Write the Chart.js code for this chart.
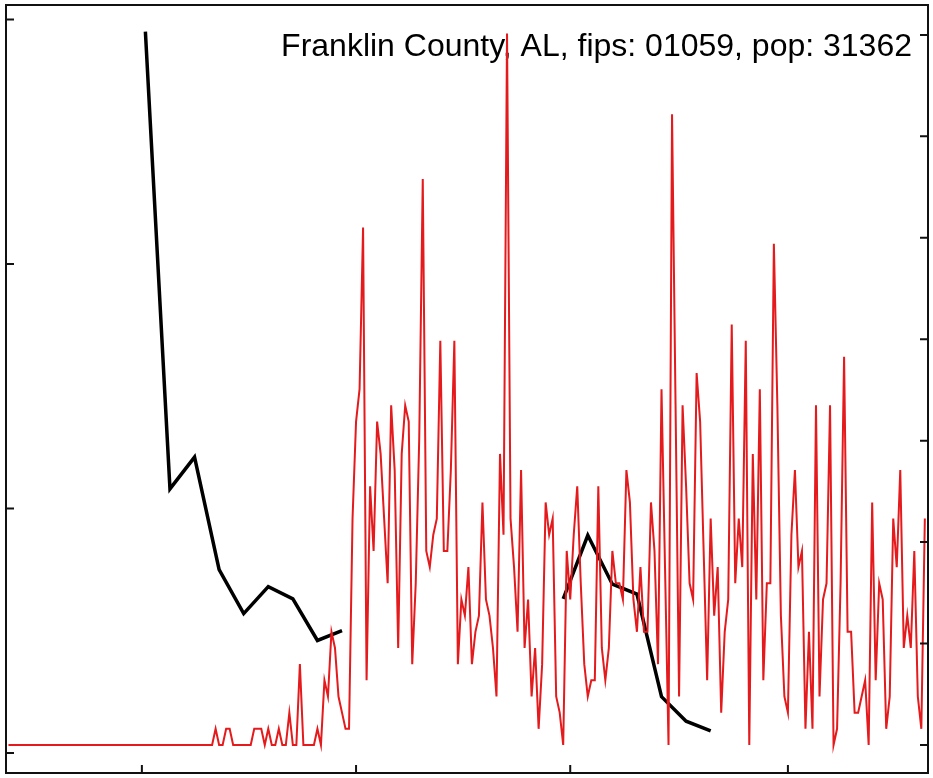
<!DOCTYPE html>
<html>
<head>
<meta charset="utf-8">
<script src="https://cdn.jsdelivr.net/npm/chart.js@4.4.1/dist/chart.umd.min.js"></script>
<style>
  html, body { margin: 0; padding: 0; background: #fff; }
  #wrap { width: 933px; height: 778px; }
</style>
</head>
<body>
<div id="wrap"><canvas id="countyChart"></canvas></div>
<script>
const countyTitle = "Franklin County, AL, fips: 01059, pop: 31362";
const population = 31362;

// daily new cases, x = days since 2020-01-22 (first value is day 1)
const firstCaseDay = 1;
const dailyCases = [
  0, 0, 0, 0, 0, 0, 0, 0, 0, 0,
  0, 0, 0, 0, 0, 0, 0, 0, 0, 0,
  0, 0, 0, 0, 0, 0, 0, 0, 0, 0,
  0, 0, 0, 0, 0, 0, 0, 0, 0, 0,
  0, 0, 0, 0, 0, 0, 0, 0, 0, 0,
  0, 0, 0, 0, 0, 0, 0, 0, 0, 1,
  0, 0, 1, 1, 0, 0, 0, 0, 0, 0,
  1, 1, 1, 0, 1, 0, 0, 1, 0, 0,
  2, 0, 0, 5, 0, 0, 0, 0, 1, 0,
  4, 3, 7, 6, 3, 2, 1, 1, 14, 20,
  22, 32, 4, 16, 12, 20, 18, 14, 10, 21,
  17, 6, 18, 21, 20, 5, 10, 19, 35, 12,
  11, 13, 14, 25, 12, 12, 17, 25, 5, 9,
  8, 11, 5, 7, 8, 15, 9, 8, 6, 3,
  18, 13, 44, 14, 11, 7, 17, 6, 9, 3,
  6, 1, 5, 15, 13, 14, 3, 2, 0, 12,
  9, 13, 16, 10, 5, 3, 4, 4, 16, 6,
  4, 6, 12, 10, 10, 9, 17, 15, 9, 7,
  11, 7, 7, 15, 12, 5, 22, 11, 0, 39,
  21, 3, 21, 16, 10, 9, 23, 20, 12, 4,
  14, 8, 11, 2, 7, 9, 26, 10, 14, 11,
  25, 0, 18, 9, 22, 4, 10, 10, 31, 21,
  8, 3, 2, 13, 17, 11, 12, 1, 7, 1,
  21, 3, 9, 10, 21, 0, 1, 10, 24, 7,
  7, 2, 2, 3, 4, 0, 15, 4, 10, 9,
  1, 3, 14, 11, 17, 6, 8, 6, 12, 3,
  1, 14
];

// weekly series (left axis), one value every 7 days from day 40
const firstWeekDay = 40;
const weeklyValues = [
  29.5, 10.8, 12.1, 7.5, 5.7, 6.8, 6.3, 4.6, 5.0,
  null, null, null, null, null, null, null, null,
  6.3, 8.9, 6.9, 6.5, 2.3, 1.3, 0.9
];

const leftTicks = [0, 10, 20, 30];
const rightTicks = [0, 20, 40, 60, 80, 100, 120, 140];
const monthTickDays = [39, 100, 161, 223]; // Mar 1, May 1, Jul 1, Sep 1

const casesPer100k = dailyCases.map((c, i) => ({ x: firstCaseDay + i, y: c * 100000 / population }));
const weeklyPoints = weeklyValues.map((v, i) => ({ x: firstWeekDay + 7 * i, y: v }));

// frame with inward ticks, like the base R plot
const framePlugin = {
  id: 'frame',
  beforeDatasetsDraw(chart) {
    const ctx = chart.ctx;
    ctx.save();
    ctx.fillStyle = '#000';
    ctx.font = '32px "Liberation Sans", Arial, sans-serif';
    ctx.textAlign = 'right';
    ctx.textBaseline = 'alphabetic';
    ctx.fillText(countyTitle, 912, 56);
    ctx.restore();
  },
  afterDraw(chart) {
    const ctx = chart.ctx;
    const a = chart.chartArea;
    const s = chart.scales;
    const len = 8;
    ctx.save();
    ctx.strokeStyle = '#111';
    ctx.lineWidth = 2;
    ctx.strokeRect(a.left, a.top, a.right - a.left, a.bottom - a.top);
    ctx.beginPath();
    leftTicks.forEach(v => {
      const y = s.yLeft.getPixelForValue(v);
      ctx.moveTo(a.left, y); ctx.lineTo(a.left + len, y);
    });
    rightTicks.forEach(v => {
      const y = s.yRight.getPixelForValue(v);
      ctx.moveTo(a.right, y); ctx.lineTo(a.right - len, y);
    });
    monthTickDays.forEach(d => {
      const x = s.x.getPixelForValue(d);
      ctx.moveTo(x, a.bottom); ctx.lineTo(x, a.bottom - len);
    });
    ctx.stroke();
    ctx.restore();
  }
};

new Chart(document.getElementById('countyChart'), {
  type: 'line',
  data: {
    datasets: [{
      label: 'daily cases per 100k',
      data: casesPer100k,
      yAxisID: 'yRight',
      borderColor: '#e41a1c',
      borderWidth: 2,
      pointRadius: 0,
      tension: 0
    }, {
      label: 'weekly',
      data: weeklyPoints,
      yAxisID: 'yLeft',
      borderColor: '#000',
      borderWidth: 3.5,
      pointRadius: 0,
      tension: 0,
      spanGaps: false
    }]
  },
  options: {
    responsive: true,
    maintainAspectRatio: false,
    animation: false,
    layout: { padding: { left: 6, right: 5, top: 5, bottom: 5 } },
    plugins: {
      legend: { display: false },
      tooltip: { enabled: false }
    },
    scales: {
      x: { type: 'linear', display: false, min: 0.3, max: 262.9 },
      yLeft: { display: false, position: 'left', min: -0.82, max: 30.59 },
      yRight: { display: false, position: 'right', min: -5.52, max: 145.9 }
    }
  },
  plugins: [framePlugin]
});
</script>
</body>
</html>
